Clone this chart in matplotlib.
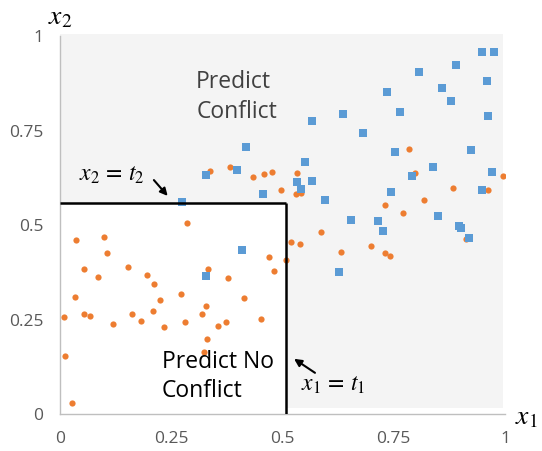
import numpy as np
import matplotlib
matplotlib.use("Agg")
import matplotlib.pyplot as plt
from matplotlib.patches import Rectangle

# points labelled "conflict" (blue squares)
conflict_x = [0.275, 0.327, 0.397, 0.418, 0.456, 0.533, 0.541, 0.551, 0.566, 0.567,
              0.596, 0.635, 0.654, 0.680, 0.714, 0.725, 0.734, 0.743, 0.752, 0.763,
              0.792, 0.806, 0.838, 0.849, 0.859, 0.879, 0.891, 0.896, 0.901, 0.919,
              0.924, 0.948, 0.948, 0.960, 0.962, 0.971, 0.976, 0.409, 0.327, 0.626]
conflict_y = [0.562, 0.633, 0.646, 0.706, 0.581, 0.613, 0.596, 0.667, 0.616, 0.775,
              0.566, 0.793, 0.513, 0.743, 0.510, 0.485, 0.852, 0.587, 0.692, 0.799,
              0.630, 0.904, 0.654, 0.524, 0.863, 0.827, 0.923, 0.497, 0.492, 0.467,
              0.699, 0.594, 0.958, 0.882, 0.788, 0.641, 0.958, 0.433, 0.364, 0.377]

# points labelled "no conflict" (orange circles)
noconf_x = [0.036, 0.100, 0.105, 0.054, 0.086, 0.152, 0.196, 0.211, 0.273, 0.225,
            0.034, 0.009, 0.054, 0.068, 0.118, 0.161, 0.183, 0.208, 0.234, 0.282,
            0.319, 0.327, 0.333, 0.378, 0.414, 0.356, 0.372, 0.330, 0.324, 0.011,
            0.028, 0.451, 0.470, 0.285, 0.338, 0.383, 0.433, 0.458, 0.476, 0.533,
            0.496, 0.531, 0.541, 0.586, 0.520, 0.539, 0.631, 0.482, 0.508, 0.784,
            0.798, 0.884, 0.961, 0.995, 0.731, 0.817, 0.770, 0.698, 0.731, 0.742,
            0.912]
noconf_y = [0.460, 0.468, 0.425, 0.383, 0.363, 0.389, 0.368, 0.344, 0.317, 0.303,
            0.309, 0.257, 0.265, 0.260, 0.239, 0.264, 0.245, 0.272, 0.230, 0.244,
            0.264, 0.285, 0.384, 0.360, 0.308, 0.234, 0.244, 0.198, 0.163, 0.153,
            0.030, 0.252, 0.415, 0.506, 0.644, 0.653, 0.628, 0.634, 0.641, 0.638,
            0.592, 0.583, 0.586, 0.481, 0.456, 0.451, 0.428, 0.378, 0.408, 0.700,
            0.638, 0.597, 0.592, 0.629, 0.553, 0.566, 0.531, 0.444, 0.425, 0.419,
            0.464]

# decision thresholds
t1 = 0.509
t2 = 0.558

ticks = [0, 0.25, 0.5, 0.75, 1]
tick_labels = ["0", "0.25", "0.5", "0.75", "1"]

plt.rcParams['font.family'] = ['Open Sans', 'DejaVu Sans']
plt.rcParams['mathtext.fontset'] = 'stix'

fig = plt.figure(figsize=(5.42, 4.51), dpi=100)
ax = fig.add_axes([0.1107, 0.082, 0.821, 0.838])

# shaded "predict conflict" region, white box for "no conflict"
ax.add_patch(Rectangle((0, 0.015), 0.996, 0.99, facecolor='#f4f4f4',
                       edgecolor='none', zorder=0, clip_on=False))
ax.add_patch(Rectangle((0, 0), t1, t2, facecolor='white', edgecolor='none', zorder=0.5))

ax.scatter(noconf_x, noconf_y, s=20, marker='o', color='#ED7D31', linewidths=0, zorder=3)
ax.scatter(conflict_x, conflict_y, s=34, marker='s', color='#5B9BD5', linewidths=0, zorder=3)

ax.plot([0, t1], [t2, t2], color='black', lw=1.8, zorder=4, solid_capstyle='butt')
ax.plot([t1, t1], [0, t2], color='black', lw=1.8, zorder=4, solid_capstyle='butt')

ax.set_xlim(0, 1)
ax.set_ylim(0, 1)
ax.set_xticks(ticks)
ax.set_xticklabels(tick_labels)
ax.set_yticks(ticks)
ax.set_yticklabels(tick_labels)
ax.tick_params(length=0, labelsize=12.5, colors='#595959', pad=12)
for s in ['top', 'right']:
    ax.spines[s].set_visible(False)
for s in ['left', 'bottom']:
    ax.spines[s].set_color('#bfbfbf')
    ax.spines[s].set_linewidth(1)

ax.text(0.0, 1.05, r'$x_2$', fontsize=20, ha='center', va='center', clip_on=False)
ax.text(1.049, -0.008, r'$x_1$', fontsize=20, ha='center', va='center', clip_on=False)

ax.text(0.306, 0.839, "Predict\nConflict", fontsize=16.5, color='#404040',
        ha='left', va='center', linespacing=1.3)
ax.text(0.229, 0.10, "Predict No\nConflict", fontsize=16.5, color='black',
        ha='left', va='center', linespacing=1.3)

# threshold labels and their arrows
ax.text(0.117, 0.632, r'$x_2\,=\,t_2$', fontsize=17, ha='center', va='center')
ax.text(0.613, 0.077, r'$x_1\,=\,t_1$', fontsize=17, ha='center', va='center')
arrow = dict(arrowstyle='-|>', color='black', lw=1.5, mutation_scale=11,
             shrinkA=0, shrinkB=0)
ax.annotate('', xy=(0.242, 0.577), xytext=(0.211, 0.619), arrowprops=arrow)
ax.annotate('', xy=(0.526, 0.146), xytext=(0.573, 0.109), arrowprops=arrow)

fig.savefig("out.png", dpi=100)
